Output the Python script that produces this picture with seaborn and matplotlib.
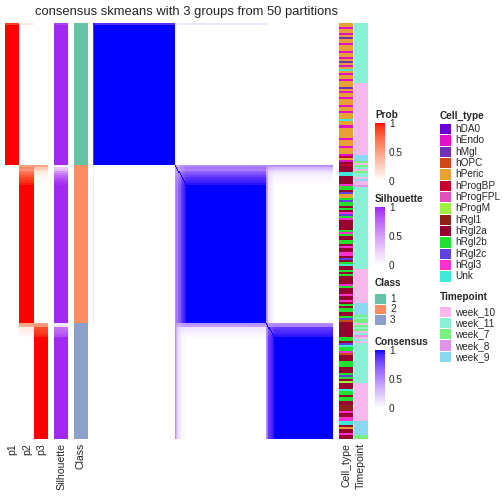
import numpy as np
import matplotlib
matplotlib.use("Agg")
import matplotlib.pyplot as plt
from matplotlib.colors import ListedColormap, Normalize
from matplotlib.cm import ScalarMappable
from matplotlib.patches import Rectangle
import seaborn as sns

sns.set_theme(style="white")
plt.rcParams["font.family"] = ["Liberation Sans", "DejaVu Sans"]

# ---------------- data ----------------
title = "consensus skmeans with 3 groups from 50 partitions"
class_labels = ["1", "2", "3"]
class_sizes = [71, 79, 58]

# membership probabilities of the uncertain rows at the head of each class
g1_head_p1 = [0.88]
g1_head_p2 = [0.12]
g1_head_p3 = [0.0]
g2_head_p1 = [0.0] * 10
g2_head_p2 = [0.50, 0.60, 0.55, 0.68, 0.75, 0.82, 0.88, 0.91, 0.94, 0.97]
g2_head_p3 = [0.47, 0.30, 0.22, 0.12, 0.08, 0.05, 0.04, 0.03, 0.02, 0.01]
g3_head_p1 = [0.0] * 7
g3_head_p2 = [0.48, 0.42, 0.12, 0.09, 0.07, 0.05, 0.03]
g3_head_p3 = [0.50, 0.55, 0.85, 0.88, 0.90, 0.93, 0.96]

g1_head_sil = [0.9]
g2_head_sil = [0.08, 0.28, 0.35, 0.55, 0.65, 0.75, 0.82, 0.88, 0.92, 0.95]
g3_head_sil = [0.12, 0.15, 0.70, 0.72, 0.76, 0.80, 0.86]
core_sil = 0.98

cell_types = ["hDA0", "hEndo", "hMgl", "hOPC", "hPeric", "hProgBP", "hProgFPL",
              "hProgM", "hRgl1", "hRgl2a", "hRgl2b", "hRgl2c", "hRgl3", "Unk"]
cell_colors = ["#6A00D8", "#E010C8", "#7030B8", "#D04818", "#E8A030", "#C80030",
               "#E050B8", "#A0F040", "#902018", "#980030", "#20E030", "#6040E0",
               "#FF30D0", "#40E8D8"]

g1_cells = [("hPeric", 2), ("hEndo", 1), ("hPeric", 2), ("hEndo", 1), ("hPeric", 1),
            ("hMgl", 1), ("hPeric", 2), ("hEndo", 1), ("hPeric", 3), ("hEndo", 1),
            ("hPeric", 2), ("hEndo", 1), ("hPeric", 1), ("hMgl", 1), ("hPeric", 1),
            ("hEndo", 1), ("hPeric", 1), ("Unk", 1), ("hPeric", 1), ("hEndo", 1),
            ("hPeric", 2), ("hEndo", 1), ("hPeric", 3), ("hMgl", 1), ("hPeric", 1),
            ("hEndo", 1), ("hPeric", 2), ("hEndo", 1), ("hPeric", 3), ("hEndo", 1),
            ("hPeric", 2), ("hEndo", 1), ("hPeric", 3), ("Unk", 1), ("hPeric", 2),
            ("hEndo", 1), ("hPeric", 5), ("hEndo", 1), ("hPeric", 3), ("hEndo", 1),
            ("hPeric", 3), ("hEndo", 1), ("hProgBP", 1), ("hPeric", 1), ("hEndo", 1),
            ("hRgl2a", 1)]
g2_cells = [("hProgBP", 1), ("hRgl2a", 3), ("Unk", 2), ("hRgl2a", 4), ("hRgl3", 1),
            ("hRgl2b", 2), ("hRgl2a", 1), ("hRgl2c", 1), ("hPeric", 2), ("hRgl2b", 1),
            ("hRgl2c", 1), ("hRgl2b", 2), ("hRgl2a", 1), ("hRgl2b", 1), ("hRgl2a", 1),
            ("hRgl3", 1), ("hRgl2c", 1), ("hRgl2b", 1), ("hRgl3", 1), ("hRgl2a", 3),
            ("hRgl2a", 2), ("hRgl2b", 1), ("hRgl3", 1), ("hRgl2b", 1), ("hRgl2a", 2),
            ("hRgl2b", 2), ("hRgl2a", 1), ("hRgl3", 1), ("hRgl2a", 2), ("hRgl3", 2),
            ("hRgl2a", 1), ("hRgl2c", 1), ("hRgl2a", 1), ("hRgl2b", 1), ("Unk", 1),
            ("hRgl2a", 2), ("hRgl2b", 1), ("hRgl2a", 1), ("hRgl2b", 1), ("hRgl2a", 4),
            ("hRgl3", 1), ("hRgl2b", 1), ("hRgl2a", 3), ("hRgl3", 1), ("hRgl2a", 2),
            ("hRgl3", 1), ("hRgl2a", 1), ("hRgl2b", 1), ("hRgl2a", 1), ("hRgl2b", 2),
            ("hRgl2a", 2), ("hRgl2b", 1), ("hRgl2c", 1), ("hOPC", 1)]
g3_cells = [("hRgl2a", 7), ("hRgl2b", 2), ("hRgl2a", 1), ("hRgl2c", 1), ("Unk", 1),
            ("hRgl2b", 2), ("hRgl3", 1), ("hOPC", 1), ("hRgl2a", 3), ("hRgl2b", 3),
            ("hRgl2a", 3), ("hRgl2b", 1), ("hRgl2c", 1), ("hRgl2b", 1), ("hRgl2a", 1),
            ("hProgM", 1), ("hRgl2a", 3), ("Unk", 1), ("hRgl2b", 2), ("hRgl2a", 1),
            ("hRgl2b", 2), ("hRgl2a", 2), ("hRgl1", 3), ("hRgl3", 1), ("hRgl2a", 2),
            ("hRgl3", 2), ("Unk", 2), ("hRgl2a", 1), ("hPeric", 1), ("hRgl2a", 2),
            ("hRgl3", 1), ("hRgl2a", 2)]

timepoints = ["week_10", "week_11", "week_7", "week_8", "week_9"]
time_colors = ["#F8B8EC", "#88F0D4", "#78F080", "#E094E8", "#88D8F0"]
g1_time = [("week_11", 30), ("week_10", 36), ("week_9", 3), ("week_7", 1), ("week_10", 1)]
g2_time = [("week_7", 1), ("week_11", 1), ("week_10", 1), ("week_7", 1), ("week_11", 2),
           ("week_10", 1), ("week_9", 1), ("week_10", 2), ("week_8", 1),
           ("week_11", 41), ("week_10", 17), ("week_9", 6),
           ("week_7", 1), ("week_11", 1), ("week_7", 2)]
g3_time = [("week_10", 1), ("week_7", 1), ("week_11", 1), ("week_7", 1), ("week_10", 1),
           ("week_11", 1), ("week_8", 1), ("week_10", 1), ("week_11", 1), ("week_10", 1),
           ("week_11", 20), ("week_10", 19), ("week_9", 7), ("week_7", 2)]

class_colors = ["#66C2A5", "#FC8D62", "#8DA0CB"]

# ---------------- helpers ----------------
def _to_lin(c):
    c = np.asarray(c, float)
    return np.where(c <= 0.04045, c / 12.92, ((c + 0.055) / 1.055) ** 2.4)

def _to_srgb(c):
    c = np.clip(c, 0, 1)
    return np.where(c <= 0.0031308, 12.92 * c, 1.055 * c ** (1 / 2.4) - 0.055)

M = np.array([[0.4124, 0.3576, 0.1805], [0.2126, 0.7152, 0.0722], [0.0193, 0.1192, 0.9505]])
WP = np.array([0.95047, 1.0, 1.08883])

def rgb2lab(rgb):
    xyz = M @ _to_lin(rgb) / WP
    f = np.where(xyz > 0.008856, np.cbrt(xyz), 7.787 * xyz + 16 / 116)
    return np.array([116 * f[1] - 16, 500 * (f[0] - f[1]), 200 * (f[1] - f[2])])

def lab2rgb(lab):
    L, a, b = lab
    fy = (L + 16) / 116
    fx = fy + a / 500
    fz = fy - b / 200
    f = np.array([fx, fy, fz])
    xyz = np.where(f ** 3 > 0.008856, f ** 3, (f - 16 / 116) / 7.787) * WP
    return _to_srgb(np.linalg.solve(M, xyz))

def lab_ramp(c1, n=256):
    l0 = rgb2lab(np.array([1.0, 1.0, 1.0]))
    l1 = rgb2lab(np.array(matplotlib.colors.to_rgb(c1)))
    return ListedColormap([lab2rgb(l0 + (l1 - l0) * t) for t in np.linspace(0, 1, n)])

def expand(rle, names):
    return [names.index(k) for k, n in rle for _ in range(n)]

cmap_prob = lab_ramp("red")
cmap_sil = lab_ramp("#A020F0")
cmap_cons = lab_ramp("blue")

# ---------------- assemble ----------------
heads_p = [(g1_head_p1, g1_head_p2, g1_head_p3),
           (g2_head_p1, g2_head_p2, g2_head_p3),
           (g3_head_p1, g3_head_p2, g3_head_p3)]
heads_sil = [g1_head_sil, g2_head_sil, g3_head_sil]
prob_rows, sil_rows, cls_rows = [], [], []
for g, (size, hp, hs) in enumerate(zip(class_sizes, heads_p, heads_sil)):
    for i in range(size):
        if i < len(hp[0]):
            prob_rows.append([hp[0][i], hp[1][i], hp[2][i]])
            sil_rows.append(hs[i])
        else:
            r = [0.0, 0.0, 0.0]
            r[g] = 1.0
            prob_rows.append(r)
            sil_rows.append(core_sil)
        cls_rows.append(g)
prob = np.array(prob_rows)
sil = np.array(sil_rows)[:, None]
cls = np.array(cls_rows)[:, None]
cons = prob @ prob.T
np.fill_diagonal(cons, 1.0)
cells = np.array(expand(g1_cells + g2_cells + g3_cells, cell_types))[:, None]
times = np.array(expand(g1_time + g2_time + g3_time, timepoints))[:, None]

# ---------------- figure ----------------
W = H = 504
fig = plt.figure(figsize=(7, 7), dpi=72)
fig.patch.set_facecolor("white")

def px_axes(x0, y0, x1, y1):
    return fig.add_axes([x0 / W, 1 - y1 / H, (x1 - x0) / W, (y1 - y0) / H])

top, bot = 23, 439
hm = dict(cbar=False, xticklabels=False, yticklabels=False, linewidths=0)
sns.heatmap(prob, ax=px_axes(5, top, 48, bot), cmap=cmap_prob, vmin=0, vmax=1, **hm)
sns.heatmap(sil, ax=px_axes(54, top, 68, bot), cmap=cmap_sil, vmin=0, vmax=1, **hm)
sns.heatmap(cls, ax=px_axes(74, top, 88, bot), cmap=ListedColormap(class_colors),
            vmin=-0.5, vmax=2.5, **hm)
sns.heatmap(cons, ax=px_axes(93, top, 333, bot), cmap=cmap_cons, vmin=0, vmax=1, **hm)
sns.heatmap(cells, ax=px_axes(339, top, 353, bot), cmap=ListedColormap(cell_colors),
            vmin=-0.5, vmax=len(cell_types) - 0.5, **hm)
sns.heatmap(times, ax=px_axes(354, top, 368, bot), cmap=ListedColormap(time_colors),
            vmin=-0.5, vmax=len(timepoints) - 0.5, **hm)

def ftext(x, y, s, **kw):
    fig.text(x / W, 1 - y / H, s, **kw)

ftext(186.5, 14.5, title, fontsize=13, ha="center", va="baseline")
for x, s in [(12.5, "p1"), (27, "p2"), (41, "p3"), (61, "Silhouette"), (81, "Class"),
             (346, "Cell_type"), (361, "Timepoint")]:
    ftext(x, 443, s, fontsize=10.5, rotation=90, ha="center", va="top")

# continuous legends
def cbar(x0, y0, x1, y1, cmap, name, ty):
    ftext(x0, ty, name, fontsize=10, fontweight="bold", ha="left", va="baseline")
    cax = px_axes(x0, y0, x1, y1)
    cb = fig.colorbar(ScalarMappable(Normalize(0, 1), cmap), cax=cax)
    cb.outline.set_visible(False)
    cb.set_ticks([0, 0.5, 1])
    cb.set_ticklabels(["0", "0.5", "1"])
    cax.tick_params(axis="y", direction="in", length=2, width=1, color="white",
                    left=True, right=True, labelsize=10, pad=4)

cbar(375, 123, 385, 181, cmap_prob, "Prob", 118.5)
cbar(375, 207, 385, 265, cmap_sil, "Silhouette", 202)
cbar(375, 350, 385, 408, cmap_cons, "Consensus", 345)

# discrete legends
lax = fig.add_axes([0, 0, 1, 1])
lax.set_xlim(0, W)
lax.set_ylim(H, 0)
lax.axis("off")

def dlegend(x, y_title, y0, step, names, colors, title_s):
    lax.text(x, y_title, title_s, fontsize=10, fontweight="bold", ha="left", va="baseline")
    for i, (n, c) in enumerate(zip(names, colors)):
        lax.add_patch(Rectangle((x, y0 + i * step + 0.5), 10.5, step - 1, facecolor=c,
                                edgecolor="none"))
        lax.text(x + 15, y0 + i * step + step / 2, n, fontsize=10, ha="left", va="center")

dlegend(375, 286, 293.5, 10.6, class_labels, class_colors, "Class")
dlegend(440, 118.5, 123.5, 11.33, cell_types, cell_colors, "Cell_type")
dlegend(440, 300.5, 306, 11.33, timepoints, time_colors, "Timepoint")

fig.savefig("out.png", dpi=72, facecolor="white")
